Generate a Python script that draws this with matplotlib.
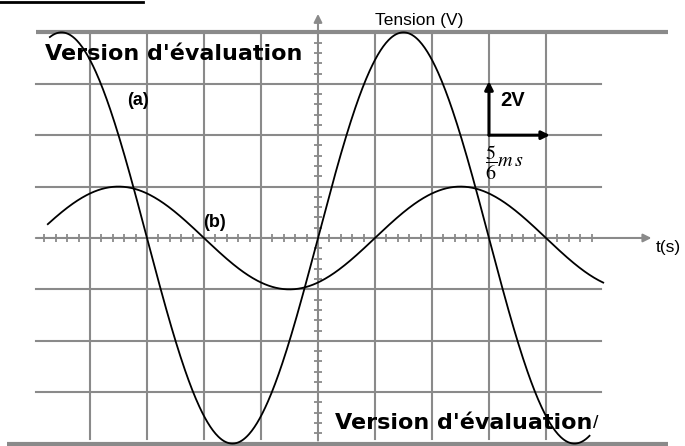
import numpy as np
import matplotlib
matplotlib.use("Agg")
import matplotlib.pyplot as plt

plt.rcParams['font.family'] = ['Liberation Sans', 'DejaVu Sans']
plt.rcParams['mathtext.fontset'] = 'stix'

# échelles de l'oscillogramme
t_div = 5 / 6      # ms par division
u_div = 2.0        # V par division

labels = ["(a)", "(b)"]
amplitudes = [8.0, 2.0]          # V
period_ms = 5.0                  # ms
delays_ms = [0.0, 5 / 6]         # (b) en retard de 5/6 ms
t_start_ms = [-3.92, -3.95]
t_end_ms = [3.97, 4.17]

grid_x = [-4, -3, -2, -1, 1, 2, 3, 4]    # divisions
grid_y = [-3, -2, -1, 1, 2, 3]

fig = plt.figure(figsize=(6.85, 4.46), dpi=100)
ax = fig.add_axes([0, 0, 1, 1])
ax.set_xlim(-5.579 * t_div, 6.439 * t_div)
ax.set_ylim(-4.047 * u_div, 4.630 * u_div)
ax.axis('off')

gray = '#8a8a8a'

# quadrillage
for k in grid_x:
    ax.plot([k * t_div] * 2, [-3.91 * u_div, 4 * u_div], color=gray, lw=1.5, zorder=1)
for k in grid_y:
    ax.plot([-4.95 * t_div, 4.96 * t_div], [k * u_div] * 2, color=gray, lw=1.5, zorder=1)

# bords épais haut et bas
ax.plot([-4.95 * t_div, 6.14 * t_div], [4 * u_div] * 2, color=gray, lw=3, zorder=1,
        solid_capstyle='butt')
ax.plot([-5.46 * t_div, 6.14 * t_div], [-4.0 * u_div] * 2, color=gray, lw=3, zorder=1,
        solid_capstyle='butt')

# axes avec flèches
ax.annotate('', xy=(5.85 * t_div, 0), xytext=(-4.95 * t_div, 0),
            arrowprops=dict(arrowstyle='-|>', color=gray, lw=1.5,
                            mutation_scale=12, shrinkA=0, shrinkB=0), zorder=2)
ax.annotate('', xy=(0, 4.36 * u_div), xytext=(0, -3.94 * u_div),
            arrowprops=dict(arrowstyle='-|>', color=gray, lw=1.5,
                            mutation_scale=12, shrinkA=0, shrinkB=0), zorder=2)

# petites graduations (5 par division)
xt = np.arange(-24, 25) * 0.2 * t_div
ax.vlines(xt, -0.16, 0.16, color=gray, lw=1.3, zorder=2)
yt = np.arange(-19, 20) * 0.2 * u_div
ax.hlines(yt, -0.065, 0.065, color=gray, lw=1.3, zorder=2)

# tensions
for amp, d, t0, t1 in zip(amplitudes, delays_ms, t_start_ms, t_end_ms):
    t = np.linspace(t0, t1, 600)
    u = amp * np.sin(2 * np.pi * (t - d) / period_ms)
    ax.plot(t, u, color='black', lw=1.3, zorder=3)

ax.text(-3.16 * t_div, 2.67 * u_div, labels[0], fontsize=13, fontweight='bold',
        ha='center', va='center', zorder=4)
ax.text(-1.82 * t_div, 0.31 * u_div, labels[1], fontsize=13, fontweight='bold',
        ha='center', va='center', zorder=4)

# échelle
ax.annotate('', xy=(3 * t_div, 3.05 * u_div), xytext=(3 * t_div, 2 * u_div),
            arrowprops=dict(arrowstyle='-|>', color='black', lw=2.2,
                            mutation_scale=12, shrinkA=0, shrinkB=0), zorder=4)
ax.annotate('', xy=(4.07 * t_div, 2 * u_div), xytext=(3 * t_div, 2 * u_div),
            arrowprops=dict(arrowstyle='-|>', color='black', lw=2.2,
                            mutation_scale=12, shrinkA=0, shrinkB=0), zorder=4)
ax.text(3.42 * t_div, 2.68 * u_div, '2V', fontsize=14.5, fontweight='bold',
        ha='center', va='center', zorder=4)
ax.text(2.93 * t_div, 1.47 * u_div, r'$\dfrac{5}{6}m\,s$', fontsize=14.5,
        ha='left', va='center', zorder=4)

ax.text(1.77 * t_div, 4.24 * u_div, 'Tension (V)', fontsize=12.5,
        ha='center', va='center')
ax.text(6.14 * t_div, -0.19 * u_div, 't(s)', fontsize=12.5,
        ha='center', va='center')

# filigranes
ax.text(-4.79 * t_div, 3.58 * u_div, "Version d'évaluation", family='DejaVu Sans',
        fontsize=16, fontweight='bold', ha='left', va='center', zorder=5)
ax.text(0.30 * t_div, -3.60 * u_div, "Version d'évaluation", family='DejaVu Sans',
        fontsize=16, fontweight='bold', ha='left', va='center', zorder=5)
ax.text(4.88 * t_div, -3.6 * u_div, "/", fontsize=14, ha='center', va='center', zorder=5)

# trait noir coupé en haut à gauche
fig.add_artist(plt.Line2D([0, 0.209], [0.9966, 0.9966], color='black', lw=2))

fig.savefig('out.png', dpi=100)
